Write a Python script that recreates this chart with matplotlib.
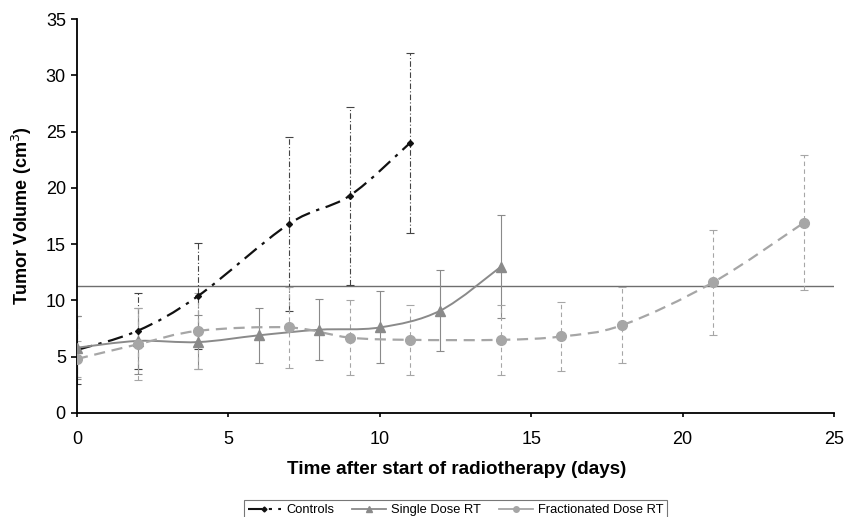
import numpy as np
import matplotlib
matplotlib.use("Agg")
import matplotlib.pyplot as plt
from matplotlib.path import Path
from matplotlib.patches import PathPatch
from matplotlib.lines import Line2D

plt.rcParams['font.family'] = ['Liberation Sans', 'DejaVu Sans']

# data
ctrl_days = [0, 2, 4, 7, 9, 11]
ctrl_vol = [5.6, 7.3, 10.4, 16.8, 19.3, 24.0]
ctrl_err = [3.0, 3.4, 4.7, 7.7, 7.9, 8.0]

single_days = [0, 2, 4, 6, 8, 10, 12, 14]
single_vol = [5.8, 6.4, 6.3, 6.9, 7.4, 7.6, 9.1, 13.0]
single_err = [2.8, 2.9, 2.4, 2.45, 2.7, 3.2, 3.6, 4.6]

frac_days = [0, 2, 4, 7, 9, 11, 14, 16, 18, 21, 24]
frac_vol = [4.8, 6.1, 7.3, 7.6, 6.7, 6.5, 6.5, 6.8, 7.8, 11.6, 16.9]
frac_err = [1.6, 3.2, 3.4, 3.6, 3.3, 3.1, 3.1, 3.1, 3.4, 4.7, 6.0]

threshold = 11.3

c_ctrl = '#111111'
c_single = '#8a8a8a'
c_frac = '#a6a6a6'


def smooth_path(xs, ys):
    # Excel-style smoothed line: Catmull-Rom segments as cubic Beziers
    p = np.column_stack([xs, ys]).astype(float)
    n = len(p)
    verts = [p[0]]
    codes = [Path.MOVETO]
    for i in range(n - 1):
        p0 = p[i - 1] if i > 0 else p[i]
        p3 = p[i + 2] if i + 2 < n else p[i + 1]
        c1 = p[i] + (p[i + 1] - p0) / 6.0
        c2 = p[i + 1] - (p3 - p[i]) / 6.0
        verts += [c1, c2, p[i + 1]]
        codes += [Path.CURVE4] * 3
    return Path(verts, codes)


fig = plt.figure(figsize=(8.45, 5.17), dpi=100)
ax = fig.add_axes([0.0911, 0.2012, 0.8959, 0.7618])

ax.axhline(threshold, color='#6e6e6e', lw=1.0, zorder=1)

series = [
    (ctrl_days, ctrl_vol, ctrl_err, c_ctrl, (0, (7, 3, 1.5, 3)), 'D', 3.0, '#444444', (0, (5, 2, 1, 2)), 1.6),
    (single_days, single_vol, single_err, c_single, '-', '^', 6.5, c_single, '-', 1.4),
    (frac_days, frac_vol, frac_err, c_frac, (0, (5, 3)), 'o', 7.0, c_frac, (0, (4, 3)), 1.6),
]

for days, vol, err, col, ls, mk, ms, ecol, els, lw in series:
    eb = ax.errorbar(days, vol, yerr=err, fmt='none', ecolor=ecol, elinewidth=0.8,
                     capsize=3, capthick=0.8, zorder=2)
    eb[2][0].set_linestyle(els)
    patch = PathPatch(smooth_path(days, vol), facecolor='none', edgecolor=col,
                      lw=lw, linestyle=ls, zorder=3)
    ax.add_patch(patch)
    ax.plot(days, vol, linestyle='none', marker=mk, ms=ms, color=col, zorder=4)

ax.set_xlim(0, 25)
ax.set_ylim(0, 35)
ax.set_xticks(np.arange(0, 26, 5))
ax.set_yticks(np.arange(0, 36, 5))
for s in ['top', 'right']:
    ax.spines[s].set_visible(False)
for s in ['left', 'bottom']:
    ax.spines[s].set_linewidth(1.3)
ax.tick_params(direction='out', width=1.2, labelsize=13)
ax.tick_params(axis='y', length=4, pad=4)
ax.tick_params(axis='x', length=3, pad=10)

ax.set_xlabel('Time after start of radiotherapy (days)', fontsize=13.6, fontweight='bold')
ax.xaxis.set_label_coords(0.502, -0.122)
ax.set_ylabel('Tumor Volume (cm$^3$)', fontsize=13, fontweight='bold', va='center')
ax.yaxis.set_label_coords(-0.073, 0.5)

handles = [
    Line2D([], [], color=c_ctrl, lw=1.5, linestyle=(0, (7, 3, 1.5, 3)), marker='D', ms=2.5),
    Line2D([], [], color=c_single, lw=1.3, marker='^', ms=4),
    Line2D([], [], color=c_frac, lw=1.3, marker='o', ms=4),
]
labels = ['Controls', 'Single Dose RT', 'Fractionated Dose RT']
leg = fig.legend(handles, labels, loc='upper center', bbox_to_anchor=(0.539, 0.045),
                 ncol=3, fontsize=9.3, frameon=True, fancybox=False, edgecolor='#555555',
                 handlelength=2.6, columnspacing=1.4, borderpad=0.3, handletextpad=0.4)
leg.get_frame().set_linewidth(0.8)

fig.savefig('out.png', dpi=100)
